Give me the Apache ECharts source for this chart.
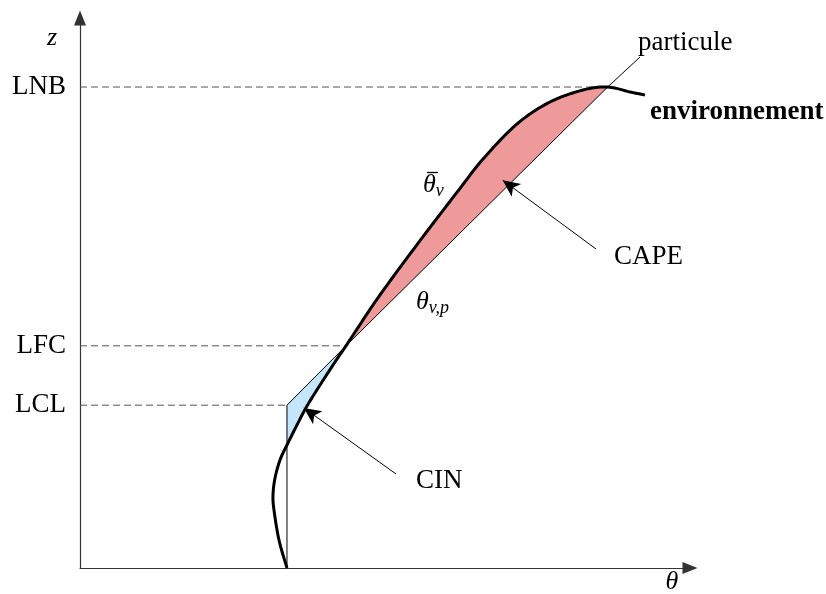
<!DOCTYPE html>
<html><head><meta charset="utf-8">
<script src="https://cdn.jsdelivr.net/npm/echarts@6/dist/echarts.min.js"></script>
<style>html,body{margin:0;padding:0;background:#fff}#c{width:826px;height:594px}</style>
</head><body><div id="c"></div>
<script>
// levels (z) and where the parcel meets them (theta)
const levelNames = ['LCL', 'LFC', 'LNB'];
const levelZ = [29.6, 40.4, 87.45];
const levelTheta = [33.93, 43.61, 86.5];

// parcel profile theta_{v,p}
const parcelTheta = [33.93, 33.93, 43.61, 86.5, 91.8];
const parcelZ = [0, 29.6, 40.4, 87.45, 92.9];

// environment profile theta_v bar
const envTheta = [33.93, 32.62, 31.80, 31.64, 31.97, 32.79, 33.93, 35.57, 37.21, 39.67, 42.13, 43.61, 48.03, 51.31, 54.59, 57.87, 61.97, 66.07, 71.64, 77.05, 82.46, 86.5, 90.16, 92.62];
const envZ = [0, 5.09, 10.55, 13.27, 16.36, 19.64, 22.36, 26.0, 29.45, 33.82, 38.0, 40.4, 47.82, 52.91, 57.82, 62.64, 68.55, 74.36, 80.73, 84.73, 86.91, 87.45, 86.55, 86.0];

// annotation arrows [tailTheta, tailZ, tipTheta, tipZ]
const capeArrow = [84.6, 58.0, 69.3, 70.5];
const cinArrow = [51.8, 17.1, 36.7, 29.1];

const serif = '"Liberation Serif", "Times New Roman", serif';
const env = envTheta.map((t, i) => [t, envZ[i]]);
const parcel = parcelTheta.map((t, i) => [t, parcelZ[i]]);

// indices on env
const iCross = 6, iLFC = 11, iLNB = 21;
const STEPS = 12;

// smooth rendering of the environment curve in pixel space
function smoothPts(px) {
  const out = [px[0]];
  for (let i = 0; i < px.length - 1; i++) {
    const p0 = px[Math.max(i - 1, 0)], p1 = px[i], p2 = px[i + 1], p3 = px[Math.min(i + 2, px.length - 1)];
    const c1 = [p1[0] + (p2[0] - p0[0]) / 6, p1[1] + (p2[1] - p0[1]) / 6];
    const c2 = [p2[0] - (p3[0] - p1[0]) / 6, p2[1] - (p3[1] - p1[1]) / 6];
    for (let s = 1; s <= STEPS; s++) {
      const t = s / STEPS, u = 1 - t;
      const a = u * u * u, b = 3 * u * u * t, c = 3 * u * t * t, d = t * t * t;
      out.push([a * p1[0] + b * c1[0] + c * c2[0] + d * p2[0], a * p1[1] + b * c1[1] + c * c2[1] + d * p2[1]]);
    }
  }
  return out;
}

const chart = echarts.init(document.getElementById('c'));
const series = [];
// filled areas CAPE / CIN
series.push({
  type: 'custom', coordinateSystem: 'cartesian2d', z: 1, silent: true, clip: false,
  data: [[0, 0]],
  renderItem: function (params, api) {
    const sm = smoothPts(env.map(p => api.coord(p)));
    const cape = sm.slice(STEPS * iLFC, STEPS * iLNB + 1).concat([api.coord(parcel[2])]);
    const cin = sm.slice(STEPS * iCross, STEPS * iLFC + 1).concat([api.coord(parcel[1])]);
    return { type: 'group', children: [
      { type: 'polygon', shape: { points: cape }, style: { fill: '#ee9a9a', stroke: null } },
      { type: 'polygon', shape: { points: cin }, style: { fill: '#c4e6fb', stroke: null } }
    ] };
  }
});
levelZ.forEach((z, i) => {
  series.push({
    type: 'line', data: [[0, z], [levelTheta[i], z]], showSymbol: false, symbol: 'none', z: 2, silent: true,
    lineStyle: { color: '#555', width: 1, type: [7, 4] }
  });
});
series.push({
  type: 'line', data: parcel, showSymbol: false, symbol: 'none', z: 3, silent: true,
  lineStyle: { color: '#000', width: 1 },
  markLine: {
    silent: true, symbol: ['none', 'arrow'], symbolSize: [12, 17], label: { show: false },
    lineStyle: { color: '#000', width: 1, type: 'solid' }, animation: false,
    data: [
      [{ coord: [capeArrow[0], capeArrow[1]] }, { coord: [capeArrow[2], capeArrow[3]] }],
      [{ coord: [cinArrow[0], cinArrow[1]] }, { coord: [cinArrow[2], cinArrow[3]] }]
    ]
  }
});
// environment curve
series.push({
  type: 'custom', coordinateSystem: 'cartesian2d', z: 4, silent: true, clip: false,
  data: [[0, 0]],
  renderItem: function (params, api) {
    const sm = smoothPts(env.map(p => api.coord(p)));
    return { type: 'polyline', shape: { points: sm }, style: { stroke: '#000', lineWidth: 3, fill: null, lineJoin: 'round', lineCap: 'butt' } };
  }
});

const axisLine = { show: true, symbol: ['none', 'triangle'], symbolSize: [12, 15], lineStyle: { color: '#333', width: 1.2 } };

chart.setOption({
  animation: false,
  backgroundColor: '#fff',
  grid: { left: 80, right: 136, top: 18, bottom: 26, containLabel: false, outerBoundsMode: 'none' },
  xAxis: {
    type: 'value', min: 0, max: 100, axisLine: axisLine,
    axisTick: { show: false }, axisLabel: { show: false }, splitLine: { show: false }
  },
  yAxis: {
    type: 'value', min: 0, max: 100, axisLine: axisLine,
    axisTick: { show: false }, splitLine: { show: false },
    axisLabel: {
      customValues: levelZ, margin: 14, color: '#000', fontSize: 27, fontFamily: serif,
      formatter: v => levelNames[levelZ.indexOf(v)]
    }
  },
  series: series,
  graphic: [
    { type: 'text', x: 52, y: 38, style: { text: 'z', font: 'italic 26px ' + serif, fill: '#000', align: 'center', verticalAlign: 'middle' } },
    { type: 'text', x: 672, y: 582, style: { text: 'θ', font: 'italic 26px ' + serif, fill: '#000', align: 'center', verticalAlign: 'middle' } },
    { type: 'text', x: 638, y: 43, style: { text: 'particule', font: '27px ' + serif, fill: '#000', align: 'left', verticalAlign: 'middle' } },
    { type: 'text', x: 650, y: 112, style: { text: 'environnement', font: 'bold 27px ' + serif, fill: '#000', align: 'left', verticalAlign: 'middle' } },
    { type: 'text', x: 614, y: 257, style: { text: 'CAPE', font: '27px ' + serif, fill: '#000', align: 'left', verticalAlign: 'middle' } },
    { type: 'text', x: 416, y: 481, style: { text: 'CIN', font: '27px ' + serif, fill: '#000', align: 'left', verticalAlign: 'middle' } },
    { type: 'text', x: 423, y: 185, style: {
      text: '{a|θ}{b|v}', align: 'left', verticalAlign: 'middle', fill: '#000',
      rich: { a: { fontSize: 26, fontStyle: 'italic', fontFamily: serif, lineHeight: 30 }, b: { fontSize: 18, fontStyle: 'italic', fontFamily: serif, lineHeight: 18, verticalAlign: 'bottom' } }
    } },
    { type: 'line', shape: { x1: 427, y1: 172.5, x2: 438, y2: 172.5 }, style: { stroke: '#000', lineWidth: 1.3 } },
    { type: 'text', x: 416, y: 302, style: {
      text: '{a|θ}{b|v,p}', align: 'left', verticalAlign: 'middle', fill: '#000',
      rich: { a: { fontSize: 26, fontStyle: 'italic', fontFamily: serif, lineHeight: 30 }, b: { fontSize: 18, fontStyle: 'italic', fontFamily: serif, lineHeight: 18, verticalAlign: 'bottom' } }
    } }
  ]
});
</script></body></html>
